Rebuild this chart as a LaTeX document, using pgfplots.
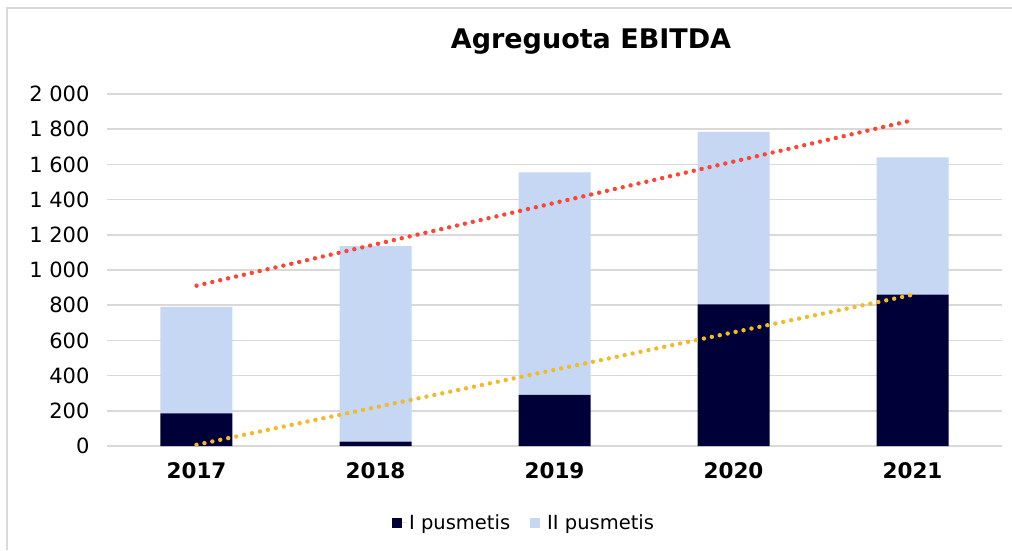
\documentclass[border=0pt]{standalone}
\usepackage{pgfplots}
\pgfplotsset{compat=1.18}
\usepackage{fontspec}
\setmainfont{DejaVu Sans}
\definecolor{darkbar}{HTML}{000038}
\definecolor{lightbar}{HTML}{C5D7F2}
\definecolor{trendred}{HTML}{FF4433}
\definecolor{trendyel}{HTML}{F2B92A}
\definecolor{gridgray}{HTML}{D9D9D9}
\begin{document}
\begin{tikzpicture}[x=1pt,y=1pt]
\path[use as bounding box] (-107,-104) rectangle (905,446);
\draw[gridgray, line width=1.8pt] (-100,-104) -- (-100,438) -- (905,438);
\pgfplotsset{
  common/.style={
    scale only axis, width=895pt, height=352pt,
    at={(0,0)}, anchor=south west,
    xmin=-0.5, xmax=4.5, ymin=0, ymax=2000,
    axis line style={draw=none},
    tick style={draw=none},
  }
}
\begin{axis}[common,
  ybar stacked, bar width=72pt,
  xtick={0,1,2,3,4},
  xticklabels={2017,2018,2019,2020,2021},
  ytick={0,200,400,600,800,1000,1200,1400,1600,1800,2000},
  yticklabels={0,200,400,600,800,1 000,1 200,1 400,1 600,1 800,2 000},
  ymajorgrids, grid style={gridgray, line width=1.5pt},
  yticklabel style={font=\fontsize{21}{25}\selectfont, xshift=-14pt},
  xticklabel style={font=\fontsize{21.5}{25}\selectfont\bfseries, yshift=-13pt},
  legend style={draw=none, at={(0.466,-0.218)}, anchor=center,
    font=\fontsize{19.5}{23}\selectfont, /tikz/every even column/.append style={column sep=18pt}},
  legend columns=2,
  legend image code/.code={\fill[#1] (-3pt,-5pt) rectangle (7pt,5pt); \path (-3pt,0) -- (12pt,0);},
]
\addplot[fill=darkbar, draw=none] coordinates {(0,185) (1,25) (2,290) (3,805) (4,860)};
\addplot[fill=lightbar, draw=none] coordinates {(0,605) (1,1110) (2,1265) (3,980) (4,780)};
\legend{I pusmetis, II pusmetis}
\end{axis}
\begin{axis}[common, hide axis]
\addplot[trendred, line width=4.4pt, line cap=round, dash pattern=on 0pt off 8.1pt] coordinates {(0,911) (4,1851)};
\addplot[trendyel, line width=4.4pt, line cap=round, dash pattern=on 0pt off 8.1pt] coordinates {(0,7) (4,859)};
\end{axis}
\node[font=\fontsize{27}{31}\selectfont\bfseries] at (484,404) {Agreguota EBITDA};
\end{tikzpicture}
\end{document}
